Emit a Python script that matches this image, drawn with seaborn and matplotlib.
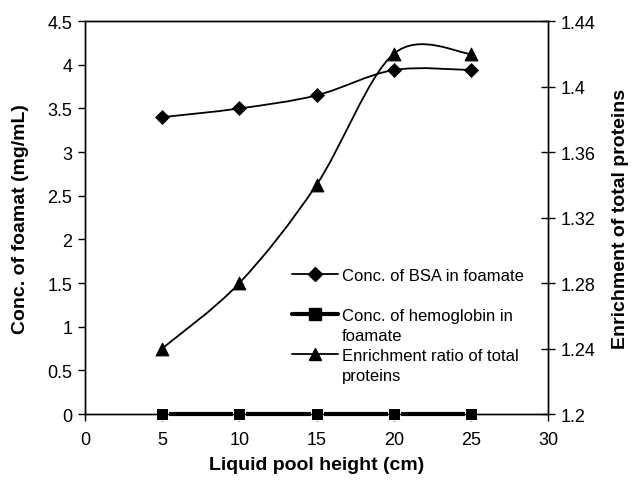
import numpy as np
import pandas as pd
import matplotlib.pyplot as plt
from matplotlib.path import Path
from matplotlib.patches import PathPatch
from matplotlib.lines import Line2D
import seaborn as sns

# data
height_cm = [5, 10, 15, 20, 25]
bsa_conc = [3.40, 3.50, 3.65, 3.94, 3.94]
hb_conc = [0, 0, 0, 0, 0]
enrichment = [1.24, 1.28, 1.34, 1.42, 1.42]

labels = ['Conc. of BSA in foamate', ' ',
          'Conc. of hemoglobin in', 'foamate',
          'Enrichment ratio of total', 'proteins']


def smooth_line(ax, xs, ys, lw=1.3):
    """Excel-like smoothed line: cubic Bezier through the points."""
    pts = np.column_stack([xs, ys]).astype(float)
    n = len(pts)
    verts = [pts[0]]
    codes = [Path.MOVETO]
    for i in range(n - 1):
        p0 = pts[max(i - 1, 0)]
        p1 = pts[i]
        p2 = pts[i + 1]
        p3 = pts[min(i + 2, n - 1)]
        c1 = p1 + (p2 - p0) / 6.0
        c2 = p2 - (p3 - p1) / 6.0
        verts += [c1, c2, p2]
        codes += [Path.CURVE4] * 3
    ax.add_patch(PathPatch(Path(verts, codes), fill=False, ec='black', lw=lw, zorder=2))


sns.set_style('white')
plt.rcParams['font.family'] = ['Liberation Sans', 'DejaVu Sans']
plt.rcParams['text.color'] = 'black'
plt.rcParams['axes.labelcolor'] = 'black'

df = pd.DataFrame({'h': height_cm, 'bsa': bsa_conc, 'hb': hb_conc, 'er': enrichment})

fig = plt.figure(figsize=(6.33, 4.81), dpi=100)
ax = fig.add_axes([0.134, 0.137, 0.732, 0.817])
ax2 = ax.twinx()

# left axis: BSA and hemoglobin
smooth_line(ax, df['h'], df['bsa'])
sns.scatterplot(data=df, x='h', y='bsa', marker='D', s=50, color='black',
                edgecolor='black', ax=ax, zorder=3, legend=False)
sns.lineplot(data=df, x='h', y='hb', marker='s', markersize=8.5, color='black',
             lw=3, ax=ax, zorder=3, legend=False, clip_on=False)

# right axis: enrichment
smooth_line(ax2, df['h'], df['er'])
sns.scatterplot(data=df, x='h', y='er', marker='^', s=85, color='black',
                edgecolor='black', ax=ax2, zorder=3, legend=False)

ax.set_xlim(0, 30)
ax.set_ylim(0, 4.5)
ax.set_xticks(np.arange(0, 31, 5))
ax.set_yticks(np.arange(0, 4.51, 0.5))
ax.set_yticklabels(['0', '0.5', '1', '1.5', '2', '2.5', '3', '3.5', '4', '4.5'])
ax2.set_ylim(1.2, 1.44)
ax2.set_yticks([1.2, 1.24, 1.28, 1.32, 1.36, 1.4, 1.44])
ax2.set_yticklabels(['1.2', '1.24', '1.28', '1.32', '1.36', '1.4', '1.44'])

ax.set_xlabel('Liquid pool height (cm)', fontsize=14, fontweight='bold', labelpad=6)
ax.set_ylabel('Conc. of foamat (mg/mL)', fontsize=14, fontweight='bold', labelpad=13)
ax2.set_ylabel('Enrichment of total proteins', fontsize=14, fontweight='bold', labelpad=12)

for a in (ax, ax2):
    for s in a.spines.values():
        s.set_color('black')
        s.set_linewidth(1.0)
ax.tick_params(axis='both', direction='out', length=5, width=1, labelsize=13,
               left=True, bottom=True, colors='black')
ax.tick_params(axis='x', pad=7)
ax.tick_params(axis='y', pad=4)
ax2.tick_params(axis='y', direction='inout', length=10, width=1, labelsize=13,
                right=True, colors='black', pad=4)

blank = Line2D([], [], lw=0)
handles = [
    Line2D([], [], color='black', lw=1.3, marker='D', markersize=7),
    blank,
    Line2D([], [], color='black', lw=3, marker='s', markersize=8.5),
    blank,
    Line2D([], [], color='black', lw=1.3, marker='^', markersize=9),
    blank,
]
ax.legend(handles, labels, loc='upper left', bbox_to_anchor=(0.447, 0.371),
          frameon=False, fontsize=12, handlelength=2.75, handletextpad=0.25,
          labelspacing=0.3, borderaxespad=0, borderpad=0, labelcolor='black')

fig.savefig('out.png', dpi=100)
